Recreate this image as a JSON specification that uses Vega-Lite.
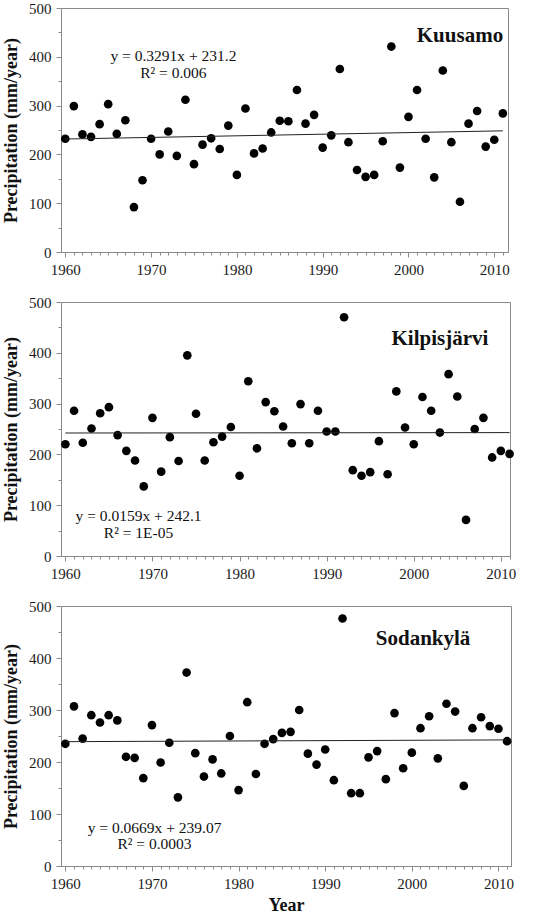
{
  "$schema": "https://vega.github.io/schema/vega-lite/v6.json",
  "padding": {"left": 2, "top": 0, "right": 5, "bottom": 0},
  "background": "white",
  "config": {
    "view": {"stroke": "#8a8a8a", "strokeWidth": 1},
    "font": "Liberation Serif",
    "text": {"font": "Liberation Serif"},
    "axis": {
      "labelFont": "Liberation Serif", "labelFontSize": 15, "labelColor": "#1a1a1a",
      "titleFont": "Liberation Serif", "titleFontSize": 18, "titleFontWeight": "bold", "titleColor": "#111",
      "domainColor": "#8a8a8a", "tickColor": "#8a8a8a", "grid": false, "labelFlush": false
    }
  },
  "datasets": {
    "kuusamo": [
      {"year":1960,"precip":232},{"year":1961,"precip":299},{"year":1962,"precip":241},{"year":1963,"precip":236},{"year":1964,"precip":262},{"year":1965,"precip":303},{"year":1966,"precip":242},{"year":1967,"precip":270},{"year":1968,"precip":92},{"year":1969,"precip":147},
      {"year":1970,"precip":232},{"year":1971,"precip":200},{"year":1972,"precip":247},{"year":1973,"precip":197},{"year":1974,"precip":312},{"year":1975,"precip":180},{"year":1976,"precip":220},{"year":1977,"precip":233},{"year":1978,"precip":211},{"year":1979,"precip":259},
      {"year":1980,"precip":158},{"year":1981,"precip":294},{"year":1982,"precip":202},{"year":1983,"precip":212},{"year":1984,"precip":245},{"year":1985,"precip":269},{"year":1986,"precip":268},{"year":1987,"precip":332},{"year":1988,"precip":263},{"year":1989,"precip":281},
      {"year":1990,"precip":214},{"year":1991,"precip":239},{"year":1992,"precip":375},{"year":1993,"precip":225},{"year":1994,"precip":168},{"year":1995,"precip":154},{"year":1996,"precip":158},{"year":1997,"precip":227},{"year":1998,"precip":421},{"year":1999,"precip":173},
      {"year":2000,"precip":277},{"year":2001,"precip":332},{"year":2002,"precip":232},{"year":2003,"precip":153},{"year":2004,"precip":372},{"year":2005,"precip":225},{"year":2006,"precip":103},{"year":2007,"precip":263},{"year":2008,"precip":289},{"year":2009,"precip":216},
      {"year":2010,"precip":230},{"year":2011,"precip":284}
    ],
    "kuusamo_fit": [{"year":1960,"precip":231.5},{"year":2011,"precip":248.3}],
    "kilpis": [
      {"year":1960,"precip":220},{"year":1961,"precip":286},{"year":1962,"precip":223},{"year":1963,"precip":251},{"year":1964,"precip":281},{"year":1965,"precip":293},{"year":1966,"precip":238},{"year":1967,"precip":207},{"year":1968,"precip":188},{"year":1969,"precip":137},
      {"year":1970,"precip":272},{"year":1971,"precip":166},{"year":1972,"precip":234},{"year":1973,"precip":187},{"year":1974,"precip":395},{"year":1975,"precip":280},{"year":1976,"precip":188},{"year":1977,"precip":224},{"year":1978,"precip":235},{"year":1979,"precip":254},
      {"year":1980,"precip":158},{"year":1981,"precip":344},{"year":1982,"precip":212},{"year":1983,"precip":303},{"year":1984,"precip":285},{"year":1985,"precip":255},{"year":1986,"precip":222},{"year":1987,"precip":299},{"year":1988,"precip":222},{"year":1989,"precip":286},
      {"year":1990,"precip":245},{"year":1991,"precip":245},{"year":1992,"precip":470},{"year":1993,"precip":169},{"year":1994,"precip":158},{"year":1995,"precip":165},{"year":1996,"precip":226},{"year":1997,"precip":161},{"year":1998,"precip":324},{"year":1999,"precip":253},
      {"year":2000,"precip":220},{"year":2001,"precip":313},{"year":2002,"precip":286},{"year":2003,"precip":243},{"year":2004,"precip":358},{"year":2005,"precip":314},{"year":2006,"precip":71},{"year":2007,"precip":250},{"year":2008,"precip":272},{"year":2009,"precip":194},
      {"year":2010,"precip":207},{"year":2011,"precip":201}
    ],
    "kilpis_fit": [{"year":1960,"precip":242.1},{"year":2011,"precip":242.9}],
    "sodankyla": [
      {"year":1960,"precip":235},{"year":1961,"precip":307},{"year":1962,"precip":245},{"year":1963,"precip":290},{"year":1964,"precip":276},{"year":1965,"precip":290},{"year":1966,"precip":280},{"year":1967,"precip":210},{"year":1968,"precip":208},{"year":1969,"precip":169},
      {"year":1970,"precip":271},{"year":1971,"precip":199},{"year":1972,"precip":237},{"year":1973,"precip":132},{"year":1974,"precip":372},{"year":1975,"precip":217},{"year":1976,"precip":172},{"year":1977,"precip":205},{"year":1978,"precip":178},{"year":1979,"precip":250},
      {"year":1980,"precip":146},{"year":1981,"precip":315},{"year":1982,"precip":177},{"year":1983,"precip":235},{"year":1984,"precip":244},{"year":1985,"precip":256},{"year":1986,"precip":258},{"year":1987,"precip":300},{"year":1988,"precip":216},{"year":1989,"precip":195},
      {"year":1990,"precip":224},{"year":1991,"precip":165},{"year":1992,"precip":476},{"year":1993,"precip":140},{"year":1994,"precip":140},{"year":1995,"precip":209},{"year":1996,"precip":221},{"year":1997,"precip":167},{"year":1998,"precip":294},{"year":1999,"precip":188},
      {"year":2000,"precip":218},{"year":2001,"precip":265},{"year":2002,"precip":288},{"year":2003,"precip":207},{"year":2004,"precip":312},{"year":2005,"precip":297},{"year":2006,"precip":154},{"year":2007,"precip":265},{"year":2008,"precip":286},{"year":2009,"precip":269},
      {"year":2010,"precip":264},{"year":2011,"precip":240}
    ],
    "sodankyla_fit": [{"year":1960,"precip":239.1},{"year":2011,"precip":242.5}]
  },
  "spacing": 50,
  "bounds": "flush",
  "vconcat": [
    {
      "width": 447, "height": 244,
      "resolve": {"axis": {"x": "independent", "y": "independent"}},
      "layer": [
        {
          "data": {"name": "kuusamo"},
          "mark": {"type": "circle", "size": 75, "color": "#000", "opacity": 1},
          "encoding": {
            "x": {"field": "year", "type": "quantitative", "scale": {"domain": [1959.5, 2011.6], "nice": false, "zero": false},
                  "axis": {"title": null, "orient": "bottom", "values": [1960,1970,1980,1990,2000,2010], "format": "d", "tickSize": 5, "labelPadding": 5}},
            "y": {"field": "precip", "type": "quantitative", "scale": {"domain": [0, 500], "nice": false},
                  "axis": {"title": "Precipitation (mm/year)", "orient": "left", "values": [0,100,200,300,400,500], "tickSize": 5, "labelPadding": 5, "titlePadding": 8}}
          }
        },
        {
          "data": {"name": "kuusamo_fit"},
          "mark": {"type": "line", "color": "#222", "strokeWidth": 1},
          "encoding": {
            "x": {"field": "year", "type": "quantitative",
                  "axis": {"title": null, "orient": "bottom", "labels": false, "domain": false, "tickSize": 3, "values": [1961,1962,1963,1964,1965,1966,1967,1968,1969,1971,1972,1973,1974,1975,1976,1977,1978,1979,1981,1982,1983,1984,1985,1986,1987,1988,1989,1991,1992,1993,1994,1995,1996,1997,1998,1999,2001,2002,2003,2004,2005,2006,2007,2008,2009,2011]}},
            "y": {"field": "precip", "type": "quantitative",
                  "axis": {"title": null, "orient": "left", "labels": false, "domain": false, "tickSize": 3, "values": [50,150,250,350,450]}}
          }
        },
        {
          "data": {"values": [{"note": "fit"}]},
          "mark": {"type": "text", "text": ["y = 0.3291x + 231.2", "R² = 0.006"], "font": "Liberation Serif", "fontSize": 15.5, "lineHeight": 17, "align": "center", "baseline": "top", "color": "#111"},
          "encoding": {"x": {"datum": 1972.6, "type": "quantitative", "axis": null}, "y": {"datum": 415, "type": "quantitative", "axis": null}}
        },
        {
          "data": {"values": [{"note": "station"}]},
          "mark": {"type": "text", "text": "Kuusamo", "font": "Liberation Serif", "fontSize": 21, "fontWeight": "bold", "align": "center", "baseline": "middle", "color": "#111"},
          "encoding": {"x": {"datum": 2006, "type": "quantitative", "axis": null}, "y": {"datum": 443, "type": "quantitative", "axis": null}}
        }
      ]
    },
    {
      "width": 449, "height": 254,
      "resolve": {"axis": {"x": "independent", "y": "independent"}},
      "layer": [
        {
          "data": {"name": "kilpis"},
          "mark": {"type": "circle", "size": 75, "color": "#000", "opacity": 1},
          "encoding": {
            "x": {"field": "year", "type": "quantitative", "scale": {"domain": [1959.5, 2011.05], "nice": false, "zero": false},
                  "axis": {"title": null, "orient": "bottom", "values": [1960,1970,1980,1990,2000,2010], "format": "d", "tickSize": 5, "labelPadding": 5}},
            "y": {"field": "precip", "type": "quantitative", "scale": {"domain": [0, 500], "nice": false},
                  "axis": {"title": "Precipitation (mm/year)", "orient": "left", "values": [0,100,200,300,400,500], "tickSize": 5, "labelPadding": 5, "titlePadding": 8}}
          }
        },
        {
          "data": {"name": "kilpis_fit"},
          "mark": {"type": "line", "color": "#222", "strokeWidth": 1},
          "encoding": {
            "x": {"field": "year", "type": "quantitative",
                  "axis": {"title": null, "orient": "bottom", "labels": false, "domain": false, "tickSize": 3, "values": [1961,1962,1963,1964,1965,1966,1967,1968,1969,1971,1972,1973,1974,1975,1976,1977,1978,1979,1981,1982,1983,1984,1985,1986,1987,1988,1989,1991,1992,1993,1994,1995,1996,1997,1998,1999,2001,2002,2003,2004,2005,2006,2007,2008,2009,2011]}},
            "y": {"field": "precip", "type": "quantitative",
                  "axis": {"title": null, "orient": "left", "labels": false, "domain": false, "tickSize": 3, "values": [50,150,250,350,450]}}
          }
        },
        {
          "data": {"values": [{"note": "fit"}]},
          "mark": {"type": "text", "text": ["y = 0.0159x + 242.1", "R² = 1E-05"], "font": "Liberation Serif", "fontSize": 15.5, "lineHeight": 17, "align": "center", "baseline": "top", "color": "#111"},
          "encoding": {"x": {"datum": 1968.4, "type": "quantitative", "axis": null}, "y": {"datum": 93, "type": "quantitative", "axis": null}}
        },
        {
          "data": {"values": [{"note": "station"}]},
          "mark": {"type": "text", "text": "Kilpisjärvi", "font": "Liberation Serif", "fontSize": 21, "fontWeight": "bold", "align": "center", "baseline": "middle", "color": "#111"},
          "encoding": {"x": {"datum": 2003, "type": "quantitative", "axis": null}, "y": {"datum": 427, "type": "quantitative", "axis": null}}
        }
      ]
    },
    {
      "width": 450, "height": 260,
      "resolve": {"axis": {"x": "independent", "y": "independent"}},
      "layer": [
        {
          "data": {"name": "sodankyla"},
          "mark": {"type": "circle", "size": 75, "color": "#000", "opacity": 1},
          "encoding": {
            "x": {"field": "year", "type": "quantitative", "scale": {"domain": [1959.5, 2011.45], "nice": false, "zero": false},
                  "axis": {"title": "Year", "orient": "bottom", "values": [1960,1970,1980,1990,2000,2010], "format": "d", "tickSize": 5, "labelPadding": 5, "titlePadding": 5}},
            "y": {"field": "precip", "type": "quantitative", "scale": {"domain": [0, 500], "nice": false},
                  "axis": {"title": "Precipitation (mm/year)", "orient": "left", "values": [0,100,200,300,400,500], "tickSize": 5, "labelPadding": 5, "titlePadding": 8}}
          }
        },
        {
          "data": {"name": "sodankyla_fit"},
          "mark": {"type": "line", "color": "#222", "strokeWidth": 1},
          "encoding": {
            "x": {"field": "year", "type": "quantitative",
                  "axis": {"title": null, "orient": "bottom", "labels": false, "domain": false, "tickSize": 3, "values": [1961,1962,1963,1964,1965,1966,1967,1968,1969,1971,1972,1973,1974,1975,1976,1977,1978,1979,1981,1982,1983,1984,1985,1986,1987,1988,1989,1991,1992,1993,1994,1995,1996,1997,1998,1999,2001,2002,2003,2004,2005,2006,2007,2008,2009,2011]}},
            "y": {"field": "precip", "type": "quantitative",
                  "axis": {"title": null, "orient": "left", "labels": false, "domain": false, "tickSize": 3, "values": [50,150,250,350,450]}}
          }
        },
        {
          "data": {"values": [{"note": "fit"}]},
          "mark": {"type": "text", "text": ["y = 0.0669x + 239.07", "R² = 0.0003"], "font": "Liberation Serif", "fontSize": 15.5, "lineHeight": 16, "align": "center", "baseline": "top", "color": "#111"},
          "encoding": {"x": {"datum": 1970.3, "type": "quantitative", "axis": null}, "y": {"datum": 87, "type": "quantitative", "axis": null}}
        },
        {
          "data": {"values": [{"note": "station"}]},
          "mark": {"type": "text", "text": "Sodankylä", "font": "Liberation Serif", "fontSize": 21, "fontWeight": "bold", "align": "center", "baseline": "middle", "color": "#111"},
          "encoding": {"x": {"datum": 2001.3, "type": "quantitative", "axis": null}, "y": {"datum": 436, "type": "quantitative", "axis": null}}
        }
      ]
    }
  ]
}
